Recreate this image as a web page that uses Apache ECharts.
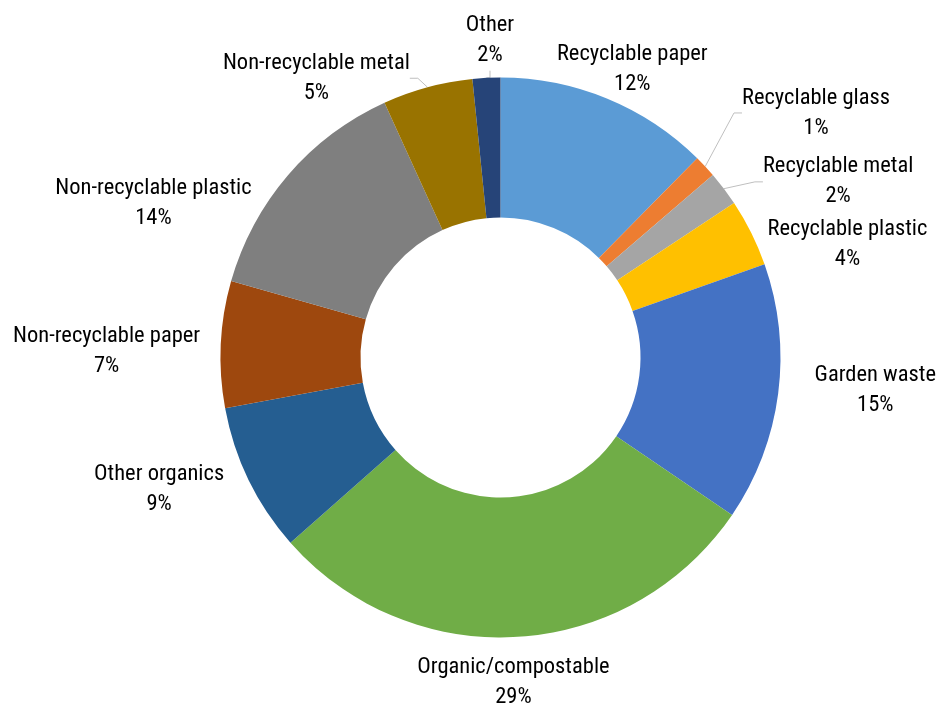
<!DOCTYPE html>
<html>
<head>
<meta charset="utf-8">
<title>Waste composition</title>
<script src="https://cdn.jsdelivr.net/npm/echarts@6/dist/echarts.min.js"></script>
<style>
  html, body { margin: 0; padding: 0; background: #fff; }
  #chart { width: 941px; height: 705px; }
</style>
</head>
<body>
<div id="chart"></div>
<script>
// slices, clockwise from 12 o'clock
const categories = [
  'Recyclable paper', 'Recyclable glass', 'Recyclable metal', 'Recyclable plastic',
  'Garden waste', 'Organic/compostable', 'Other organics', 'Non-recyclable paper',
  'Non-recyclable plastic', 'Non-recyclable metal', 'Other'
]
// share of total (%)
const shares = [12.4, 1.3, 2.0, 3.9, 14.9, 29.0, 8.6, 7.3, 13.8, 5.2, 1.6]

const colors = [
  '#5B9BD5', '#ED7D31', '#A5A5A5', '#FFC000', '#4472C4', '#70AD47',
  '#255E91', '#9E480E', '#7F7F7F', '#997300', '#264478'
]
// small slices get a leader line
const withLine = ['Recyclable glass', 'Recyclable metal', 'Non-recyclable metal', 'Other']

// label placement: turn (deg) away from slice middle, reach (px) from centre
const labelTurn = [2.0, 4.9, 9.2, 7.9, -2.8, 1.3, 5.2, -1.4, -16.3, -18.0, 1.0]
const labelReach = [320, 401, 382, 366, 376, 322, 365, 394, 381, 337, 320]

const cx = 500.5
const cy = 357.5

const total = shares.reduce((a, b) => a + b, 0)
const midAngle = []
let acc = 0
shares.forEach(v => {
  midAngle.push((acc + v / 2) / total * 360)
  acc += v
})

const chart = echarts.init(document.getElementById('chart'))

chart.setOption({
  animation: false,
  color: colors,
  series: [{
    type: 'pie',
    center: [cx, cy],
    radius: [140, 280],
    startAngle: 90,
    clockwise: true,
    avoidLabelOverlap: false,
    emphasis: { scale: false },
    itemStyle: { borderWidth: 0 },
    label: {
      show: true,
      position: 'outside',
      color: '#000',
      fontFamily: "'Roboto Condensed', 'Liberation Sans', sans-serif",
      fontSize: 22.5,
      lineHeight: 30,
      overflow: 'none',
      formatter: p => p.name + '\n' + Math.round(p.percent) + '%'
    },
    labelLine: {
      length: 10,
      length2: 8,
      lineStyle: { color: '#BFBFBF', width: 1 }
    },
    labelLayout: function (p) {
      const i = p.dataIndex
      const a = (midAngle[i] + labelTurn[i]) * Math.PI / 180
      return {
        x: cx + labelReach[i] * Math.sin(a),
        y: cy - labelReach[i] * Math.cos(a) + 3,
        align: 'center',
        verticalAlign: 'middle'
      }
    },
    data: categories.map((name, i) => ({
      name: name,
      value: shares[i],
      labelLine: { show: withLine.indexOf(name) >= 0 }
    }))
  }]
})
</script>
</body>
</html>
